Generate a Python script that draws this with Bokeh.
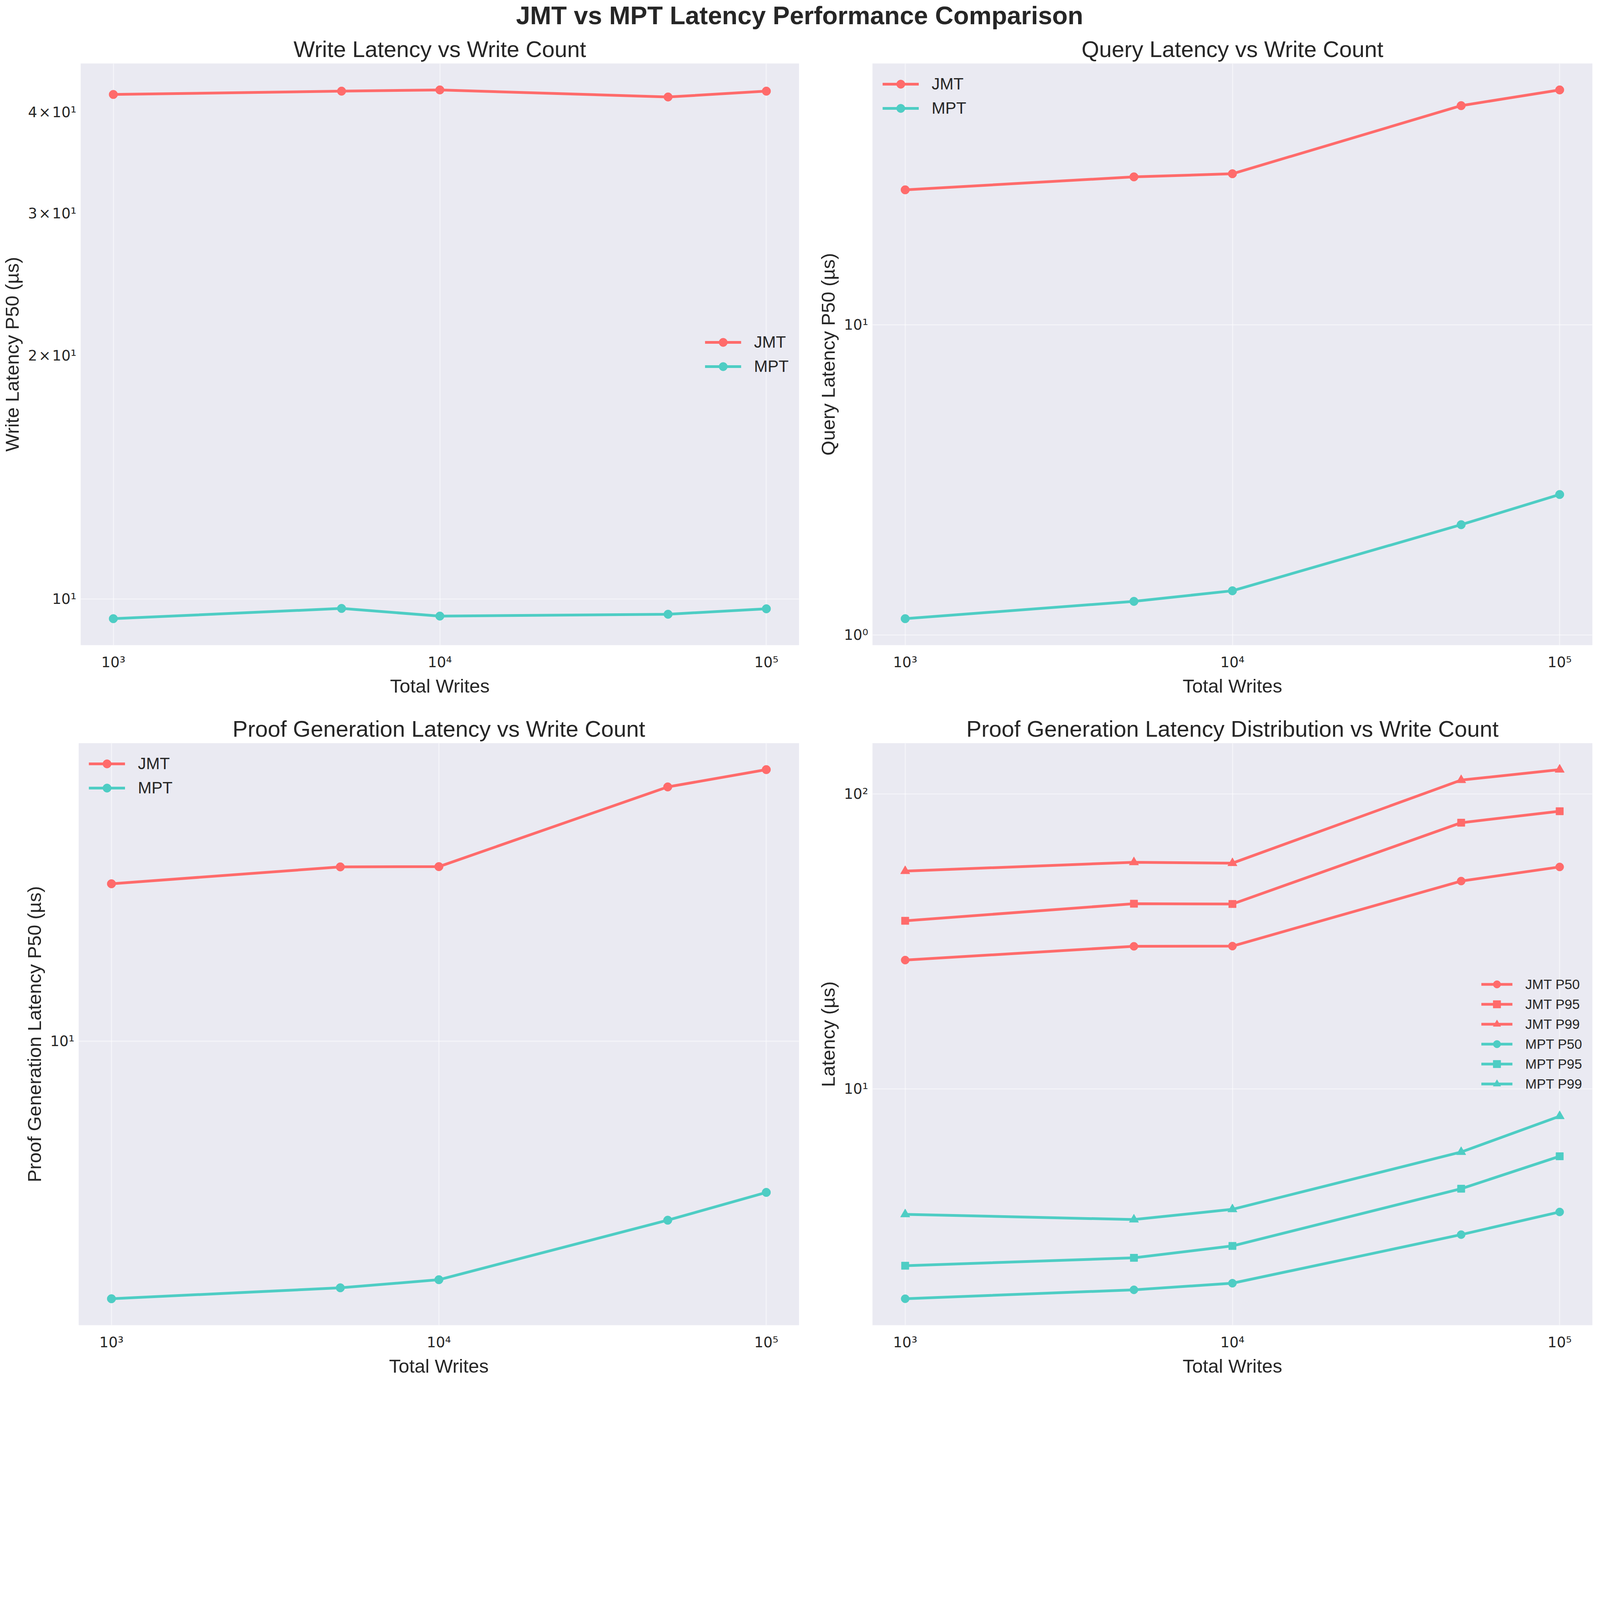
import json
import math

from bokeh.plotting import figure
from bokeh.layouts import column, row
from bokeh.models import Range1d, FixedTicker, CustomJSTickFormatter
from bokeh.embed import file_html
from bokeh.resources import INLINE

# ---------------- data ----------------
writes = [1000, 5000, 10000, 50000, 100000]

write_jmt = [42.1, 42.5, 42.65, 41.8, 42.5]
write_mpt = [9.46, 9.74, 9.53, 9.58, 9.73]

query_jmt = [27.25, 30.0, 30.7, 50.9, 57.2]
query_mpt = [1.13, 1.285, 1.39, 2.27, 2.84]

proof_jmt_p50 = [27.3, 30.4, 30.45, 50.6, 56.5]
proof_jmt_p95 = [37.1, 42.4, 42.3, 79.8, 87.3]
proof_jmt_p99 = [54.7, 58.6, 58.2, 111.3, 120.8]
proof_mpt_p50 = [1.94, 2.08, 2.19, 3.2, 3.82]
proof_mpt_p95 = [2.51, 2.67, 2.93, 4.58, 5.9]
proof_mpt_p99 = [3.75, 3.6, 3.9, 6.1, 8.07]

x_ticks = [1000, 10000, 100000]
x_labels = {"1000": "10³", "10000": "10⁴", "100000": "10⁵"}

HS = "\u200a"
write_yticks = [10, 20, 30, 40]
write_ylabels = {"10": "10¹", "20": "2" + HS + "×" + HS + "10¹",
                 "30": "3" + HS + "×" + HS + "10¹", "40": "4" + HS + "×" + HS + "10¹"}
query_yticks = [1, 10]
query_ylabels = {"1": "10⁰", "10": "10¹"}
proof_yticks = [10]
proof_ylabels = {"10": "10¹"}
dist_yticks = [10, 100]
dist_ylabels = {"10": "10¹", "100": "10²"}

# ---------------- style ----------------
JMT_COLOR = "#FF6B6B"
MPT_COLOR = "#4ECDC4"
TEXT = "#262626"
BG = "#EAEAF2"
LABEL_FONT = "Liberation Sans"
TICK_FONT = "DejaVu Sans"

# the visible page area is about 4113 px wide: scale the whole layout to it
S = 4100.0 / 4740.0


def px(v):
    return int(round(v * S))


def fs(v):
    return "%dpx" % px(v)


def log_range(vals, margin=0.05):
    lo = math.log10(min(vals))
    hi = math.log10(max(vals))
    d = hi - lo
    return Range1d(10 ** (lo - margin * d), 10 ** (hi + margin * d))


def formatter(labels):
    return CustomJSTickFormatter(
        code="const lab = %s; const k = String(tick); return (k in lab) ? lab[k] : '';" % json.dumps(labels)
    )


def make_fig(title, ylabel, all_vals, yticks, ylabels, ygrid, width, height,
             left, right, top, bottom):
    p = figure(
        width=px(width), height=px(height),
        x_axis_type="log", y_axis_type="log",
        x_range=log_range(writes), y_range=log_range(all_vals),
        output_backend="svg", toolbar_location=None,
        min_border_left=px(left), min_border_right=px(right),
        min_border_top=px(top), min_border_bottom=px(bottom),
        background_fill_color=BG, border_fill_color="white",
        outline_line_color=None, title=title,
    )
    p.title.text_font = LABEL_FONT
    p.title.text_font_size = fs(67)
    p.title.text_font_style = "normal"
    p.title.text_color = TEXT
    p.title.align = "center"
    p.title.standoff = px(10)

    for ax in (p.xaxis[0], p.yaxis[0]):
        ax.axis_line_color = None
        ax.major_tick_line_color = None
        ax.minor_tick_line_color = None
        ax.major_tick_out = 0
        ax.major_tick_in = 0
        ax.major_label_text_font = TICK_FONT
        ax.major_label_text_font_size = fs(43)
        ax.major_label_text_color = TEXT
        ax.axis_label_text_font = LABEL_FONT
        ax.axis_label_text_font_size = fs(57)
        ax.axis_label_text_font_style = "normal"
        ax.axis_label_text_color = TEXT

    p.xaxis[0].ticker = FixedTicker(ticks=x_ticks)
    p.xaxis[0].formatter = formatter(x_labels)
    p.xaxis[0].axis_label = "Total Writes"
    p.xaxis[0].major_label_standoff = px(26)
    p.xaxis[0].axis_label_standoff = px(10)

    p.yaxis[0].ticker = FixedTicker(ticks=yticks)
    p.yaxis[0].formatter = formatter(ylabels)
    p.yaxis[0].axis_label = ylabel
    p.yaxis[0].major_label_standoff = px(13)
    p.yaxis[0].axis_label_standoff = px(13)

    p.xgrid.ticker = FixedTicker(ticks=x_ticks)
    p.ygrid.ticker = FixedTicker(ticks=ygrid)
    for g in (p.xgrid[0], p.ygrid[0]):
        g.grid_line_color = "white"
        g.grid_line_alpha = 0.45
        g.grid_line_width = px(4)
    return p


def add_series(p, vals, color, label, marker, size):
    p.line(writes, vals, line_width=px(8), color=color, legend_label=label)
    p.scatter(writes, vals, marker=marker, size=px(size), color=color, legend_label=label)


def style_legend(p, location, font_px, glyph_h, spacing, glyph_w):
    lg = p.legend[0]
    lg.location = location
    lg.background_fill_alpha = 0
    lg.border_line_color = None
    lg.label_text_font = LABEL_FONT
    lg.label_text_font_size = fs(font_px)
    lg.label_text_color = TEXT
    lg.glyph_width = px(glyph_w)
    lg.glyph_height = px(glyph_h)
    lg.label_height = px(glyph_h)
    lg.spacing = px(spacing)
    lg.label_standoff = px(38)
    lg.margin = px(30)
    lg.padding = px(26)


W_LEFT, W_RIGHT = 2382, 2350
H_ROW1, H_ROW2 = 2007, 1995

p1 = make_fig("Write Latency vs Write Count", "Write Latency P50 (µs)",
              write_jmt + write_mpt, write_yticks, write_ylabels, [10],
              W_LEFT, H_ROW1, 232, 17, 92, 193)
add_series(p1, write_jmt, JMT_COLOR, "JMT", "circle", 25)
add_series(p1, write_mpt, MPT_COLOR, "MPT", "circle", 25)
style_legend(p1, "center_right", 49, 62, 9, 108)

p2 = make_fig("Query Latency vs Write Count", "Query Latency P50 (µs)",
              query_jmt + query_mpt, query_yticks, query_ylabels, [1, 10],
              W_RIGHT, H_ROW1, 200, 20, 92, 193)
add_series(p2, query_jmt, JMT_COLOR, "JMT", "circle", 25)
add_series(p2, query_mpt, MPT_COLOR, "MPT", "circle", 25)
style_legend(p2, "top_left", 49, 62, 9, 108)

p3 = make_fig("Proof Generation Latency vs Write Count", "Proof Generation Latency P50 (µs)",
              proof_jmt_p50 + proof_mpt_p50, proof_yticks, proof_ylabels, [10],
              W_LEFT, H_ROW2, 232, 17, 97, 176)
add_series(p3, proof_jmt_p50, JMT_COLOR, "JMT", "circle", 25)
add_series(p3, proof_mpt_p50, MPT_COLOR, "MPT", "circle", 25)
style_legend(p3, "top_left", 49, 62, 9, 108)

all_dist = (proof_jmt_p50 + proof_jmt_p95 + proof_jmt_p99 +
            proof_mpt_p50 + proof_mpt_p95 + proof_mpt_p99)
p4 = make_fig("Proof Generation Latency Distribution vs Write Count", "Latency (µs)",
              all_dist, dist_yticks, dist_ylabels, [10, 100],
              W_RIGHT, H_ROW2, 200, 20, 97, 176)
add_series(p4, proof_jmt_p50, JMT_COLOR, "JMT P50", "circle", 24)
add_series(p4, proof_jmt_p95, JMT_COLOR, "JMT P95", "square", 22)
add_series(p4, proof_jmt_p99, JMT_COLOR, "JMT P99", "triangle", 28)
add_series(p4, proof_mpt_p50, MPT_COLOR, "MPT P50", "circle", 24)
add_series(p4, proof_mpt_p95, MPT_COLOR, "MPT P95", "square", 22)
add_series(p4, proof_mpt_p99, MPT_COLOR, "MPT P99", "triangle", 28)
style_legend(p4, "center_right", 41, 55, 4, 92)

# header carrying the overall title
header = figure(width=px(W_LEFT) + px(W_RIGHT), height=px(95), x_range=(0, 1), y_range=(0, 1),
                output_backend="svg", toolbar_location=None,
                min_border=0, outline_line_color=None,
                background_fill_color="white", border_fill_color="white",
                title="JMT vs MPT Latency Performance Comparison")
header.axis.visible = False
header.grid.visible = False
header.title.text_font = LABEL_FONT
header.title.text_font_size = fs(75)
header.title.text_font_style = "bold"
header.title.text_color = TEXT
header.title.align = "center"
header.title.standoff = 0

layout = column(header, row(p1, p2, spacing=0), row(p3, p4, spacing=0), spacing=0)

open("out.html", "w").write(file_html(layout, INLINE))
